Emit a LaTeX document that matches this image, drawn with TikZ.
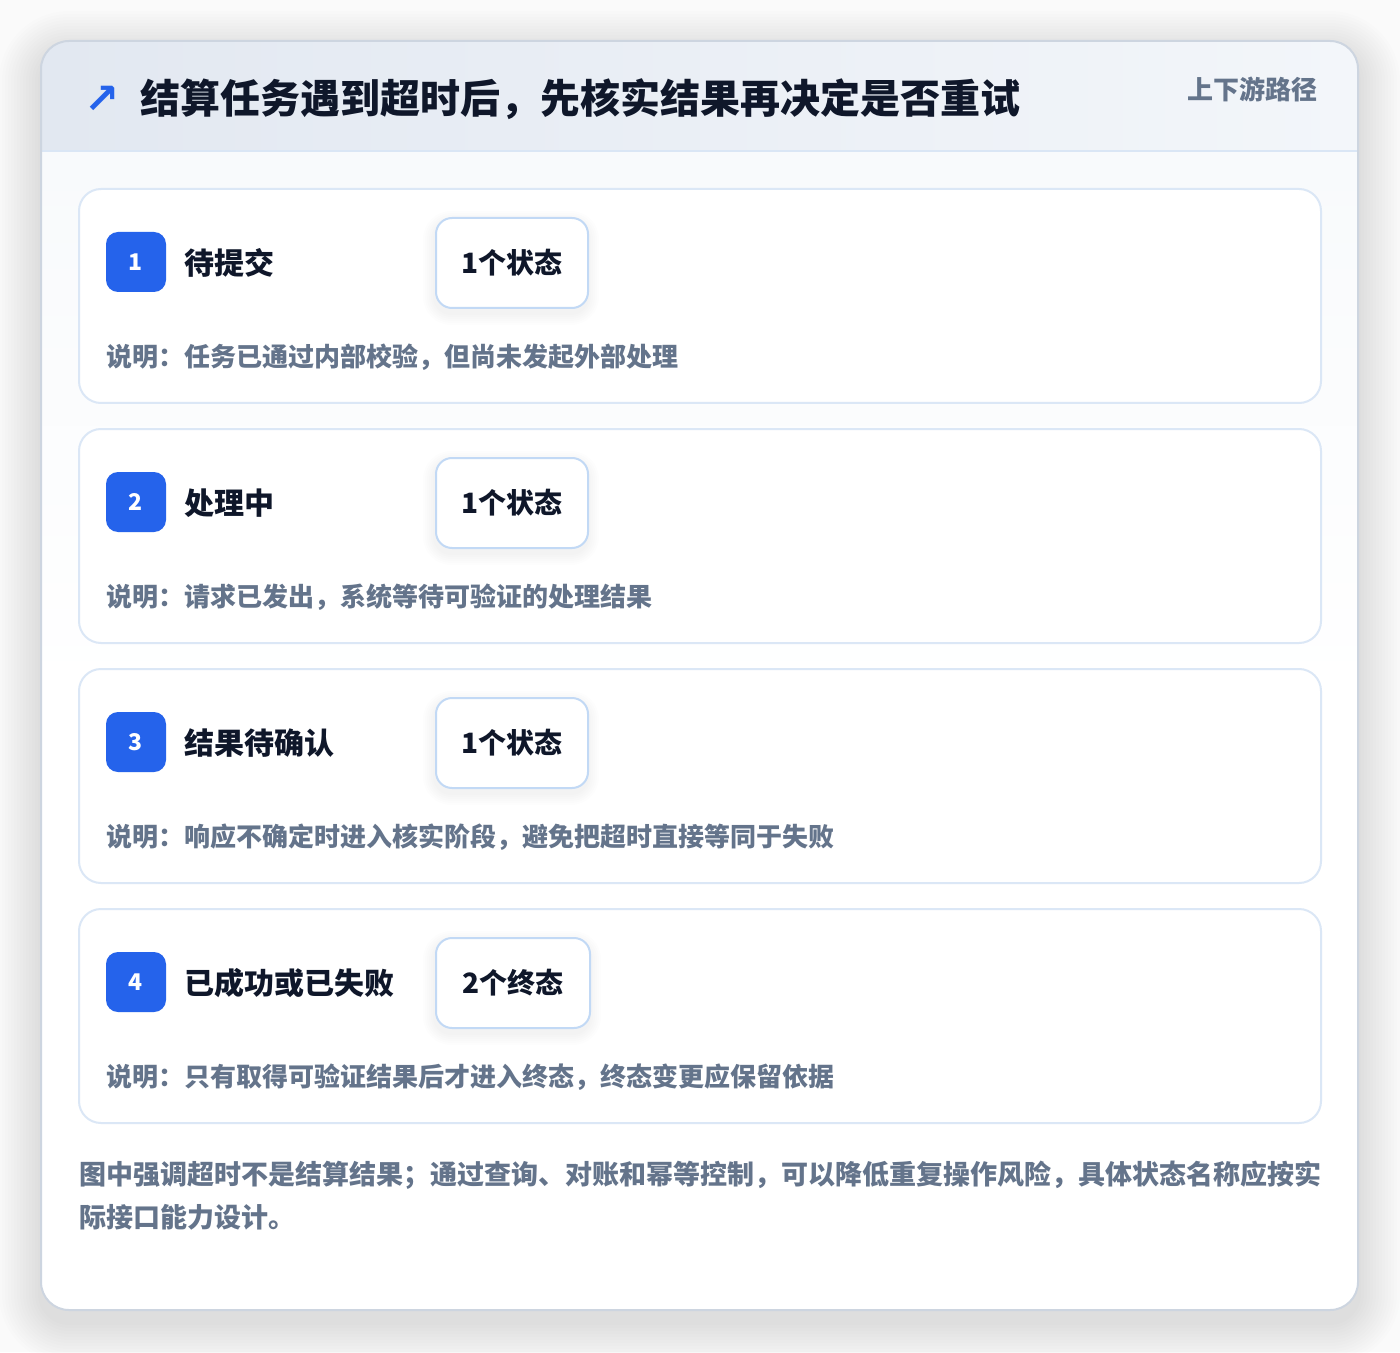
\documentclass[tikz,border=0pt]{standalone}
\usepackage{fontspec}
\setmainfont{Noto Sans CJK SC}
\newfontfamily\symfont{DejaVu Sans}
\definecolor{pagebg}{HTML}{FAFAFA}
\definecolor{cardedge}{HTML}{CDD5E0}
\definecolor{headL}{HTML}{E2E8F1}
\definecolor{headR}{HTML}{F3F6FA}
\definecolor{headline}{HTML}{DAE6F5}
\definecolor{bodybg}{HTML}{F8FAFC}
\definecolor{subedge}{HTML}{DBE7F6}
\definecolor{tagedge}{HTML}{C2D9F5}
\definecolor{accent}{HTML}{2563EB}
\definecolor{ink}{HTML}{0F172A}
\definecolor{muted}{HTML}{64748B}
\tikzset{
  subcard/.style={fill=white, draw=subedge, line width=1pt, rounded corners=11pt},
  badge/.style={fill=accent, rounded corners=6pt, minimum width=30pt, minimum height=30pt, inner sep=0pt,
    text=white, font=\fontsize{11.5}{13}\selectfont\bfseries},
  steptitle/.style={anchor=west, inner sep=0pt, text=ink, font=\fontsize{15}{18}\selectfont\bfseries},
  tagbox/.style={fill=white, draw=tagedge, line width=1pt, rounded corners=8pt, minimum height=45pt, inner sep=0pt,
    text=ink, font=\fontsize{14}{17}\selectfont\bfseries},
  desctext/.style={anchor=west, inner sep=0pt, text=muted, font=\fontsize{13}{16}\selectfont\bfseries},
  softshade/.style={fill=black, fill opacity=#1},
}
\begin{document}
\begin{tikzpicture}[x=0.5pt,y=-0.5pt]
\useasboundingbox (0,0) rectangle (1400,1352);
\fill[pagebg] (0,0) rectangle (1400,1352);
% main card shadow
\foreach \k in {1,...,14}{
  \fill[softshade=0.007, rounded corners=14pt+\k*1.5pt] (41-\k*3,41-\k*3+12) rectangle (1358+\k*3,1310+\k*3+12);
}
% main card
\begin{scope}
  \clip[rounded corners=14pt] (41,41) rectangle (1358,1310);
  \fill[white] (41,41) rectangle (1358,1310);
  \fill[top color=bodybg, bottom color=white] (41,151) rectangle (1358,700);
  \shade[left color=headL, right color=headR] (41,41) rectangle (1358,151);
  \draw[headline, line width=1pt] (41,151) -- (1358,151);
\end{scope}
\draw[cardedge, line width=1pt, rounded corners=14pt] (41,41) rectangle (1358,1310);
% header
\node[anchor=center, inner sep=0pt, text=accent, font=\symfont\bfseries\fontsize{21}{24}\selectfont] (arrow) at (102,100) {↗};
\node[anchor=west, inner sep=0pt, text=ink, font=\fontsize{20}{24}\selectfont\bfseries] (title) at (140,99)
  {结算任务遇到超时后，先核实结果再决定是否重试};
\node[anchor=east, inner sep=0pt, text=muted, font=\fontsize{13}{16}\selectfont\bfseries] (sub) at (1318,89) {上下游路径};
% steps
\foreach \i/\top/\ttl/\tg/\tw/\dsc in {
  1/189/待提交/1个状态/152/说明：任务已通过内部校验，但尚未发起外部处理,
  2/429/处理中/1个状态/152/说明：请求已发出，系统等待可验证的处理结果,
  3/669/结果待确认/1个状态/152/说明：响应不确定时进入核实阶段，避免把超时直接等同于失败,
  4/909/已成功或已失败/2个终态/154/说明：只有取得可验证结果后才进入终态，终态变更应保留依据}{
  \draw[subcard] (79,\top) rectangle (1321,\top+214);
  \foreach \s in {1,...,6}{
    \fill[softshade=0.008, rounded corners=8pt+\s*1pt] (435-\s*2,\top+28-\s*2+6) rectangle (435+\tw+\s*2,\top+118+\s*2+6);
  }
  \node[badge] (b\i) at (136,\top+73) {\i};
  \node[steptitle] (t\i) at (184,\top+74) {\ttl};
  \node[tagbox, minimum width=\tw*0.5pt, anchor=north west] (g\i) at (435,\top+28) {\tg};
  \node[desctext] (d\i) at (106,\top+168) {\dsc};
}
% footer
\node[anchor=west, inner sep=0pt, text=muted, font=\fontsize{13.5}{16}\selectfont\bfseries] (f1) at (79,1175)
  {图中强调超时不是结算结果；通过查询、对账和幂等控制，可以降低重复操作风险，具体状态名称应按实};
\node[anchor=west, inner sep=0pt, text=muted, font=\fontsize{13.5}{16}\selectfont\bfseries] (f2) at (79,1217)
  {际接口能力设计。};
\end{tikzpicture}
\end{document}
